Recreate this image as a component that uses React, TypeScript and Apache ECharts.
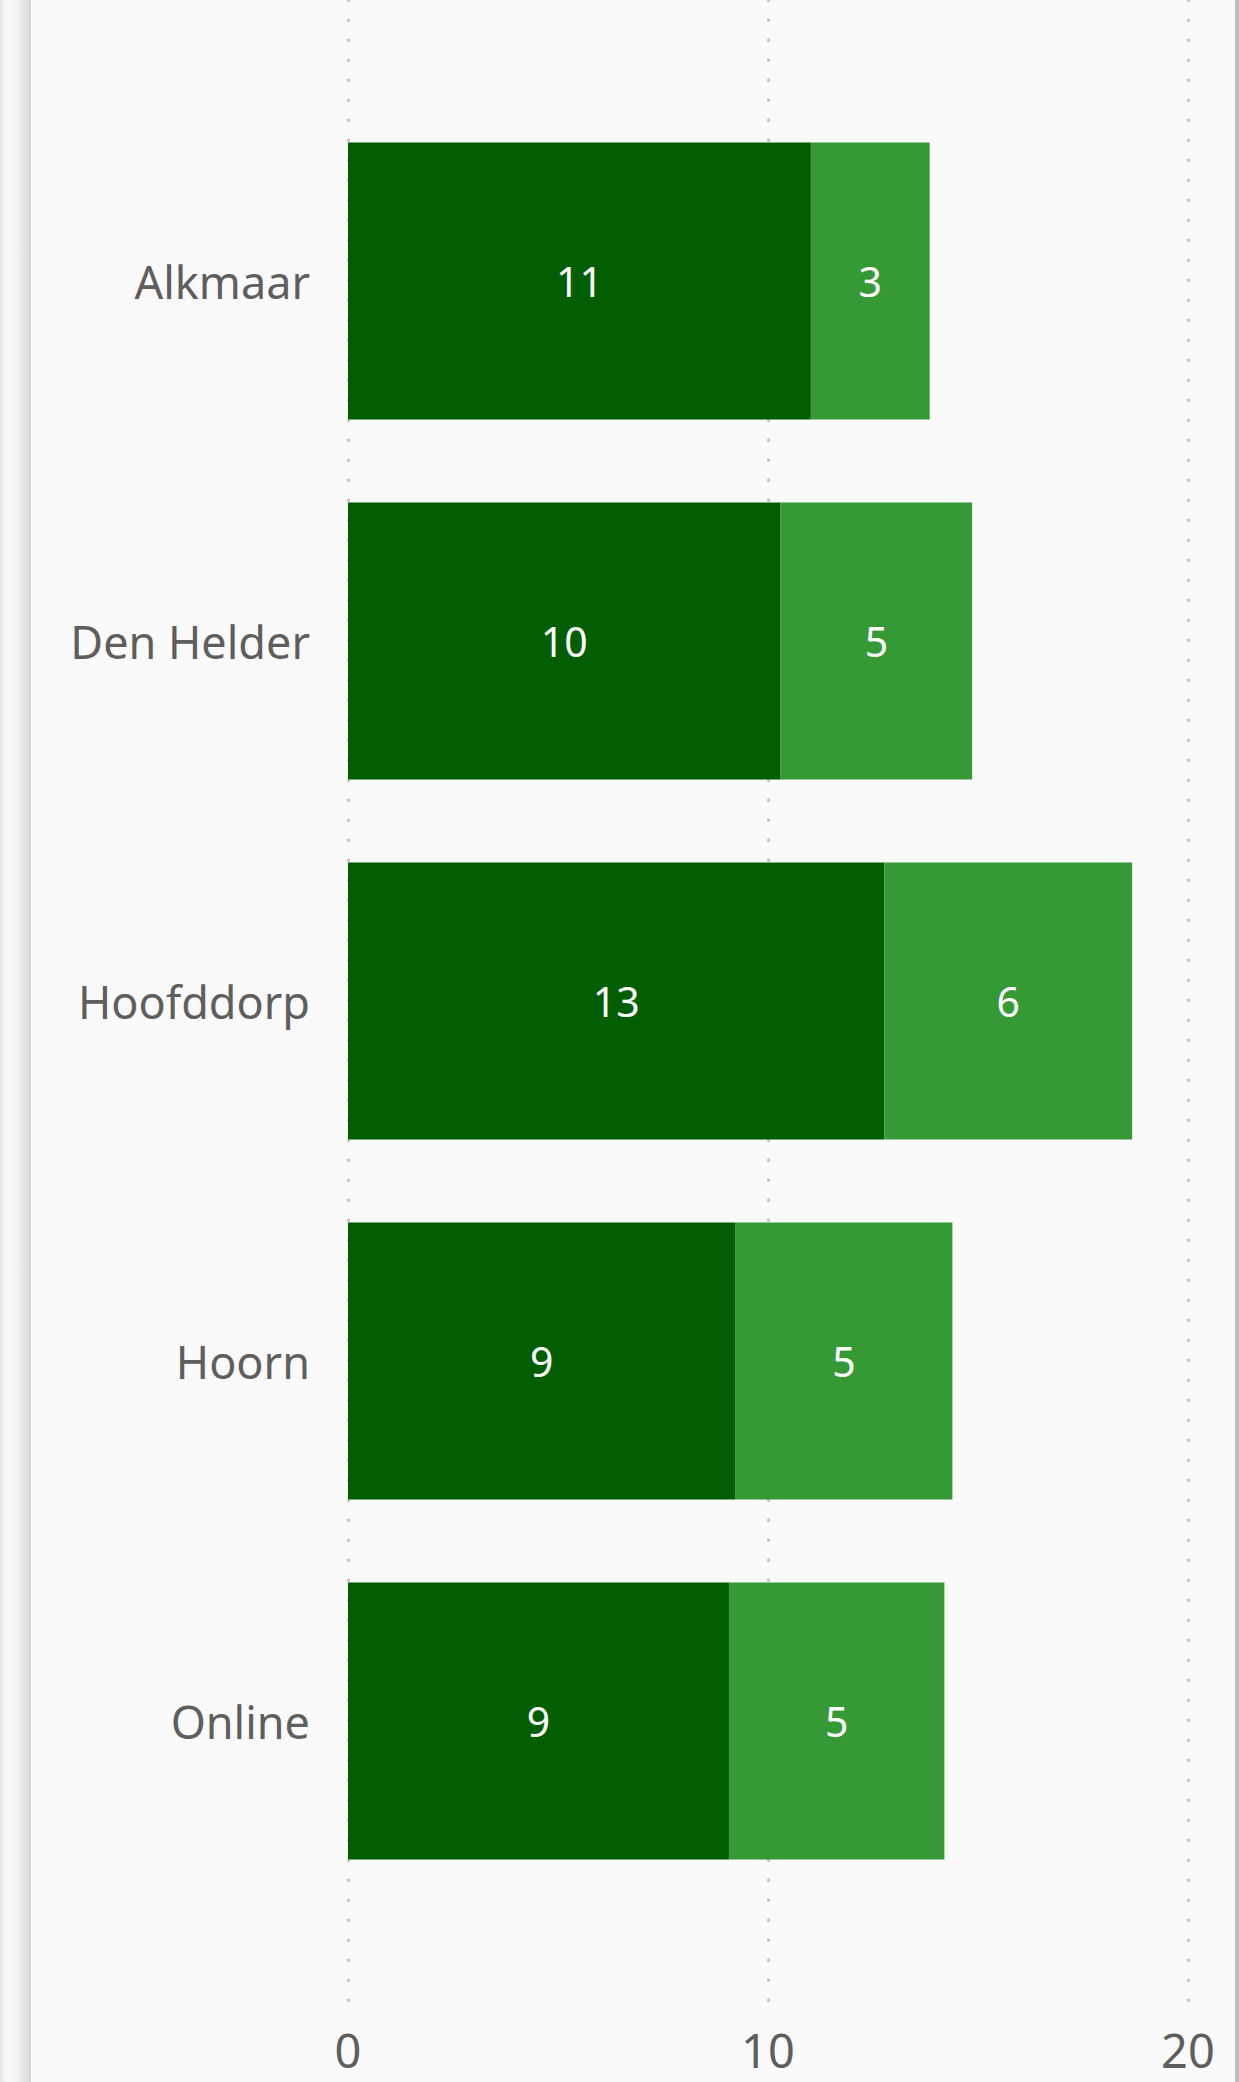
import React, { useEffect, useRef } from "react";
import * as echarts from "echarts";

const categories = ["Alkmaar", "Den Helder", "Hoofddorp", "Hoorn", "Online"];
const darkValues = [11.02, 10.3, 12.77, 9.23, 9.07];
const lightValues = [2.83, 4.56, 5.9, 5.16, 5.13];
const axisMin = 0;
const axisMax = 20;
const axisInterval = 10;

const FONT = "'Segoe UI', 'Noto Sans', sans-serif";

export default function App() {
  const ref = useRef<HTMLDivElement>(null);

  useEffect(() => {
    if (!ref.current) return;
    const chart = echarts.init(ref.current, undefined, { renderer: "svg" });
    const labelFmt = (p: any) => String(Math.round(p.value));
    chart.setOption({
      animation: false,
      backgroundColor: "#fafafa",
      textStyle: { fontFamily: FONT },
      grid: [
        { left: 348, right: 51, top: 0, bottom: 62 },
        { left: 348, right: 51, top: 101, height: 1800 },
      ],
      xAxis: [
        {
          gridIndex: 0,
          type: "value",
          min: axisMin,
          max: axisMax,
          interval: axisInterval,
          axisLine: { show: false },
          axisTick: { show: false },
          axisLabel: {
            color: "#605e5c",
            fontSize: 47,
            lineHeight: 38,
            fontFamily: FONT,
            margin: 11,
          },
          splitLine: {
            show: true,
            lineStyle: { color: "#c4c4c4", width: 3.2, type: [0.5, 19.5], cap: "round" },
          },
        },
        {
          gridIndex: 1,
          type: "value",
          min: axisMin,
          max: axisMax,
          interval: axisInterval,
          show: false,
          splitLine: { show: false },
        },
      ],
      yAxis: [
        { gridIndex: 0, type: "value", show: false, splitLine: { show: false } },
        {
          gridIndex: 1,
          type: "category",
          data: categories,
          inverse: true,
          axisLine: { show: false },
          axisTick: { show: false },
          axisLabel: { color: "#605e5c", fontSize: 45, fontFamily: FONT, margin: 38 },
        },
      ],
      series: [
        {
          type: "bar",
          xAxisIndex: 1,
          yAxisIndex: 1,
          stack: "total",
          data: darkValues,
          barCategoryGap: "23%",
          itemStyle: { color: "#005e00" },
          label: { show: true, position: "inside", color: "#ffffff", fontSize: 41, fontFamily: FONT, formatter: labelFmt },
        },
        {
          type: "bar",
          xAxisIndex: 1,
          yAxisIndex: 1,
          stack: "total",
          data: lightValues,
          barCategoryGap: "23%",
          itemStyle: { color: "#359a35" },
          label: { show: true, position: "inside", color: "#ffffff", fontSize: 41, fontFamily: FONT, formatter: labelFmt },
        },
      ],
      graphic: [
        {
          type: "rect",
          left: 0,
          top: 0,
          z: 100,
          shape: { width: 31, height: 2082 },
          style: {
            fill: new echarts.graphic.LinearGradient(0, 0, 1, 0, [
              { offset: 0, color: "#e6e6e6" },
              { offset: 0.2, color: "#f8f8f8" },
              { offset: 0.55, color: "#f4f4f4" },
              { offset: 1, color: "#d6d6d6" },
            ]),
          },
        },
        {
          type: "rect",
          left: 1235,
          top: 0,
          z: 100,
          shape: { width: 4, height: 2082 },
          style: { fill: "#bdbdbd" },
        },
      ],
    });
    return () => chart.dispose();
  }, []);

  return (
    <div
      ref={ref}
      style={{ position: "absolute", left: 0, top: 0, width: 1239, height: 2082 }}
    />
  );
}
